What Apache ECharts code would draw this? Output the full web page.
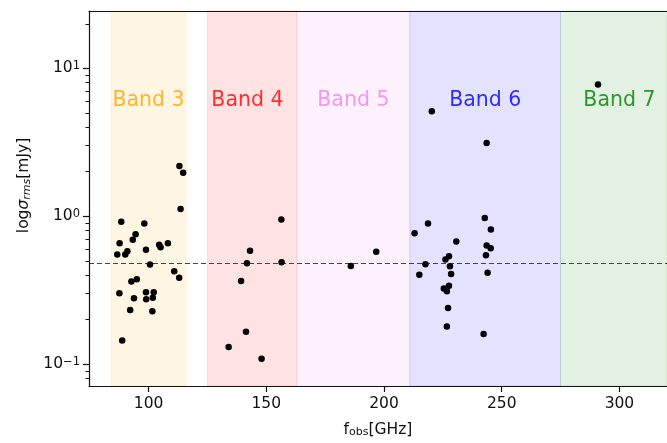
<!DOCTYPE html>
<html>
<head>
<meta charset="utf-8">
<script src="https://cdn.jsdelivr.net/npm/echarts@6/dist/echarts.min.js"></script>
<style>html,body{margin:0;padding:0;background:#fff}#c{width:667px;height:443px}</style>
</head>
<body>
<div id="c"></div>
<script>
// ---- data ----
const freqGHz = [
  113.1,114.7,113.6,88.4,98.2,94.5,87.7,93.3,104.5,105.1,108.2,86.7,91.0,90.1,98.9,100.6,110.9,113.0,92.7,95.0,87.6,93.8,98.9,102.2,99.0,101.8,92.2,101.6,88.8,
  143.1,141.8,156.5,139.3,141.4,134.0,148.0,156.4,
  196.7,185.9,
  220.3,243.6,242.8,218.7,213.0,230.7,245.4,243.6,245.3,243.3,227.6,226.1,217.6,228.0,215.0,228.5,244.0,227.6,225.4,226.7,227.2,226.7,242.3,
  290.9
];
const rmsMJy = [
  2.19,1.97,1.12,0.917,0.893,0.756,0.657,0.693,0.641,0.617,0.657,0.551,0.580,0.551,0.593,0.472,0.425,0.385,0.362,0.375,0.302,0.279,0.307,0.307,0.275,0.281,0.233,0.228,0.145,
  0.586,0.481,0.489,0.366,0.166,0.131,0.109,0.95,
  0.575,0.462,
  5.12,3.13,0.975,0.893,0.768,0.675,0.813,0.634,0.608,0.545,0.537,0.510,0.474,0.459,0.402,0.408,0.415,0.339,0.325,0.311,0.240,0.180,0.160,
  7.76
];
const medianRms = 0.483;

const bandNames  = ['Band 3','Band 4','Band 5','Band 6','Band 7'];
const bandStart  = [84, 125, 163, 211, 275];
const bandEnd    = [116, 163, 211, 275, 373];
const bandRGB    = ['255,165,0','255,0,0','238,130,238','0,0,255','0,128,0'];
const bandTextColors = ['#FFB52E','#FF2D2D','#F198F1','#2D2DFF','#2E962E'];
const bandLabelX = [100, 142, 187, 243, 300];
const bandLabelY = 6;

const xTicks = [100, 150, 200, 250, 300];
const yMajorTicks = [0.1, 1, 10];
const yMinorTicks = [0.08,0.09,0.2,0.3,0.4,0.5,0.6,0.7,0.8,0.9,2,3,4,5,6,7,8,9,20];
const xRange = [74.7, 320.2];
const yRange = [0.0713, 24.4];

// ---- chart ----
const FONT = 'DejaVu Sans';
const chart = echarts.init(document.getElementById('c'), null, {renderer: 'canvas'});
const L = Math.log10;

const points = freqGHz.map((f, i) => [f, L(rmsMJy[i])]);

const bandAreas = bandNames.map((n, i) => [
  {xAxis: bandStart[i], itemStyle: {color: 'rgba(' + bandRGB[i] + ',0.11)', borderColor: 'rgba(' + bandRGB[i] + ',0.11)', borderWidth: 1}},
  {xAxis: bandEnd[i]}
]);

const bandLabels = bandNames.map((n, i) => ({
  name: n,
  value: [bandLabelX[i], L(bandLabelY)],
  label: {color: bandTextColors[i]}
}));

const axisLineStyle = {color: '#111', width: 1.2};

chart.setOption({
  animation: false,
  textStyle: {fontFamily: FONT},
  grid: {left: 89, top: 11, width: 579, height: 375, containLabel: false},
  xAxis: [{
    type: 'value', min: xRange[0], max: xRange[1], z: 10,
    axisLine: {show: true, onZero: false, lineStyle: axisLineStyle},
    axisTick: {show: true, length: 6, lineStyle: axisLineStyle, customValues: xTicks},
    axisLabel: {show: true, customValues: xTicks, color: '#111', fontSize: 15.5, fontFamily: FONT, margin: 10},
    splitLine: {show: false},
    name: '{a|f}{s|obs}{a|[GHz]}', nameLocation: 'middle', nameGap: 36,
    nameTextStyle: {rich: {
      a: {fontSize: 15.5, fontFamily: FONT, color: '#111', lineHeight: 16, verticalAlign: 'top'},
      s: {fontSize: 11, fontFamily: FONT, color: '#111', lineHeight: 11, padding: [9,0,0,0], verticalAlign: 'bottom'}
    }}
  }, {
    type: 'value', position: 'top', min: xRange[0], max: xRange[1], z: 10,
    axisLine: {show: true, onZero: false, lineStyle: axisLineStyle},
    axisTick: {show: false}, axisLabel: {show: false}, splitLine: {show: false}
  }],
  yAxis: [{
    type: 'value', position: 'left', min: L(yRange[0]), max: L(yRange[1]), z: 10,
    axisLine: {show: true, onZero: false, lineStyle: axisLineStyle},
    axisTick: {show: true, length: 6, lineStyle: axisLineStyle, customValues: yMajorTicks.map(L)},
    axisLabel: {
      show: true, customValues: yMajorTicks.map(L), margin: 9,
      formatter: v => '{b|10}{s|' + String(Math.round(v)).replace('-', '\u2212') + '}',
      rich: {
        b: {fontSize: 15.5, fontFamily: FONT, color: '#111', lineHeight: 16, verticalAlign: 'bottom', padding: [6,0,0,0]},
        s: {fontSize: 11.5, fontFamily: FONT, color: '#111', lineHeight: 11, padding: [0,0,10,0], verticalAlign: 'top'}
      }
    },
    splitLine: {show: false},
    name: '{a|log}{i|\u03c3}{s|rms}{a|[mJy]}', nameLocation: 'middle', nameGap: 56,
    nameTextStyle: {padding: [0,0,0,26], rich: {
      a: {fontSize: 15.5, fontFamily: FONT, color: '#111', lineHeight: 16, verticalAlign: 'top'},
      i: {fontSize: 15.5, fontFamily: FONT, fontStyle: 'italic', color: '#111', lineHeight: 16, verticalAlign: 'top'},
      s: {fontSize: 11, fontFamily: FONT, fontStyle: 'italic', color: '#111', lineHeight: 11, padding: [9,0,0,0], verticalAlign: 'bottom'}
    }}
  }, {
    type: 'value', position: 'left', min: L(yRange[0]), max: L(yRange[1]), z: 10,
    axisLine: {show: false},
    axisTick: {show: true, length: 3.5, lineStyle: {color: '#111', width: 1}, customValues: yMinorTicks.map(L)},
    axisLabel: {show: false}, splitLine: {show: false}
  }],
  series: [{
    type: 'scatter', data: [], z: 1, silent: true,
    markArea: {silent: true, data: bandAreas}
  }, {
    type: 'line', data: [], z: 2, silent: true,
    markLine: {silent: true, symbol: ['none','none'], label: {show: false},
      lineStyle: {color: '#444', width: 1, type: [5, 3]},
      data: [{yAxis: L(medianRms)}]}
  }, {
    type: 'scatter', data: points, z: 5, symbolSize: 6.5,
    itemStyle: {color: '#000', opacity: 1}
  }, {
    type: 'scatter', data: bandLabels, z: 6, symbolSize: 0,
    itemStyle: {opacity: 1},
    label: {show: true, position: 'inside', formatter: p => p.name, fontSize: 20.5, fontFamily: FONT,
      textBorderWidth: 0, textShadowBlur: 0}
  }]
});
</script>
</body>
</html>
